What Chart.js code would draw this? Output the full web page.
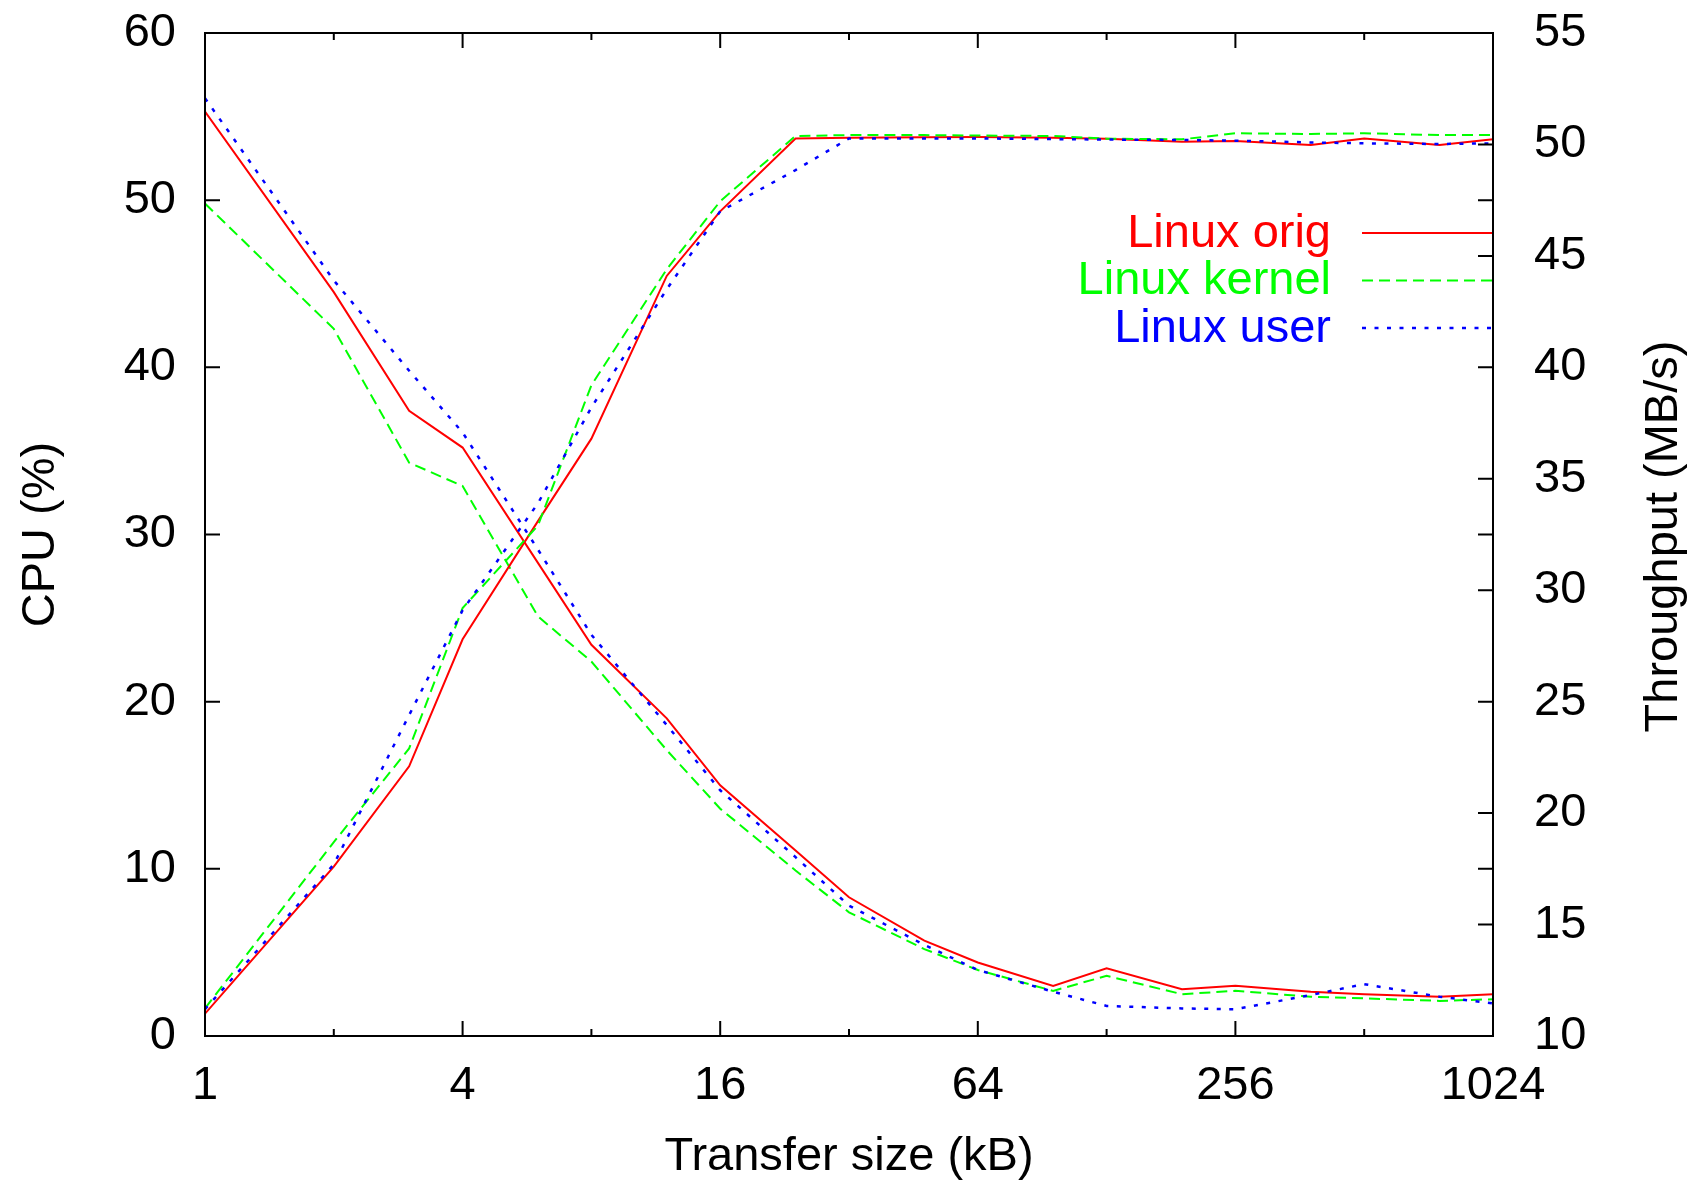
<!DOCTYPE html>
<html>
<head>
<meta charset="utf-8">
<title>CPU and throughput vs transfer size</title>
<script src="https://cdn.jsdelivr.net/npm/chart.js@4.4.1/dist/chart.umd.min.js"></script>
<style>
    html, body { margin: 0; padding: 0; background: #fff; }
    #wrap { width: 1692px; height: 1181px; }
</style>
</head>
<body>
<div id="wrap"><canvas id="chart" width="1692" height="1181"></canvas></div>
<script>
// transfer sizes (kB), log2 x axis
const sizes = [1, 2, 3, 4, 6, 8, 12, 16, 24, 32, 48, 64, 96, 128, 192, 256, 384, 512, 768, 1024];

// CPU (%) - left axis
const cpuOrig   = [55.3, 44.5, 37.4, 35.2, 28.3, 23.4, 19.0, 15.0, 11.1, 8.3, 5.7, 4.4, 3.0, 4.05, 2.8, 3.0, 2.65, 2.5, 2.35, 2.5];
const cpuKernel = [49.8, 42.3, 34.3, 32.9, 25.1, 22.4, 17.1, 13.6, 9.9, 7.4, 5.2, 3.95, 2.7, 3.6, 2.5, 2.7, 2.35, 2.25, 2.1, 2.2];
const cpuUser   = [56.1, 45.2, 39.8, 36.1, 29.1, 24.0, 18.6, 14.7, 10.7, 7.8, 5.45, 3.95, 2.65, 1.8, 1.65, 1.6, 2.45, 3.1, 2.35, 1.95];

// Throughput (MB/s) - right axis
const tpOrig   = [11.0, 17.6, 22.1, 27.8, 33.1, 36.8, 44.1, 47.0, 50.27, 50.3, 50.32, 50.33, 50.3, 50.26, 50.12, 50.15, 49.97, 50.27, 49.97, 50.23];
const tpKernel = [11.24, 18.7, 22.9, 29.2, 32.9, 39.2, 44.4, 47.45, 50.38, 50.42, 50.42, 50.4, 50.38, 50.26, 50.23, 50.5, 50.47, 50.5, 50.42, 50.42];
const tpUser   = [11.2, 17.7, 24.4, 29.1, 33.9, 38.2, 43.5, 47.0, 48.85, 50.27, 50.27, 50.27, 50.24, 50.22, 50.2, 50.17, 50.09, 50.05, 50.02, 50.05];

const seriesNames = ['Linux orig', 'Linux kernel', 'Linux user'];
const xTickValues = [1, 2, 4, 8, 16, 32, 64, 128, 256, 512, 1024];
const xLabelValues = [1, 4, 16, 64, 256, 1024];

const FONT = '"Liberation Sans", Arial, Helvetica, sans-serif';
const FONT_SIZE = 47;

// line looks, gnuplot style: solid / dashed / dotted
const looks = [
    { color: '#ff0000', dash: [], width: 2 },
    { color: '#00ff00', dash: [11, 6], width: 2 },
    { color: '#0000ff', dash: [4, 8.5], width: 2.5 }
];

function points(ys) {
    return sizes.map((s, i) => ({ x: s, y: ys[i] }));
}

function makeSet(name, ys, look, axis, inLegend) {
    return {
        label: name,
        data: points(ys),
        yAxisID: axis,
        borderColor: look.color,
        backgroundColor: look.color,
        borderDash: look.dash,
        borderWidth: look.width,
        borderCapStyle: 'butt',
        pointRadius: 0,
        pointHoverRadius: 0,
        tension: 0,
        fill: false,
        showInLegend: inLegend
    };
}

const cpuSets = [cpuOrig, cpuKernel, cpuUser];
const tpSets = [tpOrig, tpKernel, tpUser];
const datasets = [];
cpuSets.forEach((ys, i) => datasets.push(makeSet(seriesNames[i], ys, looks[i], 'y', true)));
tpSets.forEach((ys, i) => datasets.push(makeSet(seriesNames[i], ys, looks[i], 'y2', false)));
// later series sit on top, like gnuplot
datasets.forEach((d, i) => { d.order = datasets.length - i; });

// gap between axis and its labels: done with an invisible tick length so the
// label padding does not push the plot box down
function hiddenTicks(len) {
    return { display: false, drawTicks: true, tickLength: len };
}

// border box, inward ticks, key and right-hand label
const gnuplotFrame = {
    id: 'gnuplotFrame',
    afterDatasetsDraw(chart) {
        const { ctx, chartArea: a, scales } = chart;
        ctx.save();
        ctx.strokeStyle = '#000';
        ctx.lineWidth = 2;
        ctx.setLineDash([]);
        ctx.strokeRect(a.left, a.top, a.right - a.left, a.bottom - a.top);

        ctx.beginPath();
        scales.x.ticks.forEach(t => {
            const px = scales.x.getPixelForValue(t.value);
            const len = xLabelValues.includes(t.value) ? 15 : 7;
            ctx.moveTo(px, a.bottom); ctx.lineTo(px, a.bottom - len);
            ctx.moveTo(px, a.top); ctx.lineTo(px, a.top + len);
        });
        scales.y.ticks.forEach(t => {
            const py = scales.y.getPixelForValue(t.value);
            ctx.moveTo(a.left, py); ctx.lineTo(a.left + 15, py);
            ctx.moveTo(a.right, py); ctx.lineTo(a.right - 15, py);
        });
        scales.y2.ticks.forEach(t => {
            const py = scales.y2.getPixelForValue(t.value);
            ctx.moveTo(a.right, py); ctx.lineTo(a.right - 15, py);
        });
        ctx.stroke();

        // key, top right inside the box
        ctx.font = FONT_SIZE + 'px ' + FONT;
        ctx.textAlign = 'right';
        ctx.textBaseline = 'middle';
        let row = 0;
        chart.data.datasets.forEach(d => {
            if (!d.showInLegend) return;
            const y = a.top + 200 + row * 47.5;
            ctx.fillStyle = d.borderColor;
            ctx.fillText(d.label, a.right - 162, y + 1);
            ctx.strokeStyle = d.borderColor;
            ctx.lineWidth = d.borderWidth;
            ctx.setLineDash(d.borderDash);
            ctx.beginPath();
            ctx.moveTo(a.right - 131, y);
            ctx.lineTo(a.right - 1, y);
            ctx.stroke();
            row++;
        });

        // right axis title reads bottom-to-top like the left one
        ctx.setLineDash([]);
        ctx.fillStyle = '#000';
        ctx.textAlign = 'center';
        ctx.translate(1664, (a.top + a.bottom) / 2 + 2);
        ctx.rotate(-Math.PI / 2);
        ctx.fillText('Throughput (MB/s)', 0, 0);
        ctx.restore();
    }
};

Chart.defaults.font.family = FONT;
Chart.defaults.font.size = FONT_SIZE;
Chart.defaults.color = '#000';

new Chart(document.getElementById('chart').getContext('2d'), {
    type: 'line',
    data: { datasets },
    options: {
        responsive: false,
        animation: false,
        devicePixelRatio: 1,
        layout: { padding: { top: 33, left: 0, right: 0, bottom: 0 } },
        plugins: {
            legend: { display: false },
            tooltip: { enabled: false }
        },
        scales: {
            x: {
                type: 'logarithmic',
                position: 'bottom',
                min: 1,
                max: 1024,
                afterBuildTicks: (scale) => {
                    scale.ticks = xTickValues.map(v => ({ value: v }));
                },
                afterFit: (scale) => { scale.height = 145; },
                grid: hiddenTicks(22),
                border: { display: false },
                ticks: {
                    autoSkip: false,
                    maxRotation: 0,
                    padding: 0,
                    callback: (v) => xLabelValues.includes(v) ? String(v) : ''
                },
                title: {
                    display: true,
                    text: 'Transfer size (kB)',
                    padding: { top: 0, bottom: -4 }
                }
            },
            y: {
                type: 'linear',
                position: 'left',
                min: 0,
                max: 60,
                afterFit: (scale) => { scale.width = 205; },
                grid: hiddenTicks(29),
                border: { display: false },
                ticks: { stepSize: 10, padding: 0 },
                title: {
                    display: true,
                    text: 'CPU (%)',
                    padding: { top: 13, bottom: 0 }
                }
            },
            y2: {
                type: 'linear',
                position: 'right',
                min: 10,
                max: 55,
                afterFit: (scale) => { scale.width = 199; },
                grid: hiddenTicks(41),
                border: { display: false },
                ticks: { stepSize: 5, padding: 0 }
            }
        }
    },
    plugins: [gnuplotFrame]
});
</script>
</body>
</html>
